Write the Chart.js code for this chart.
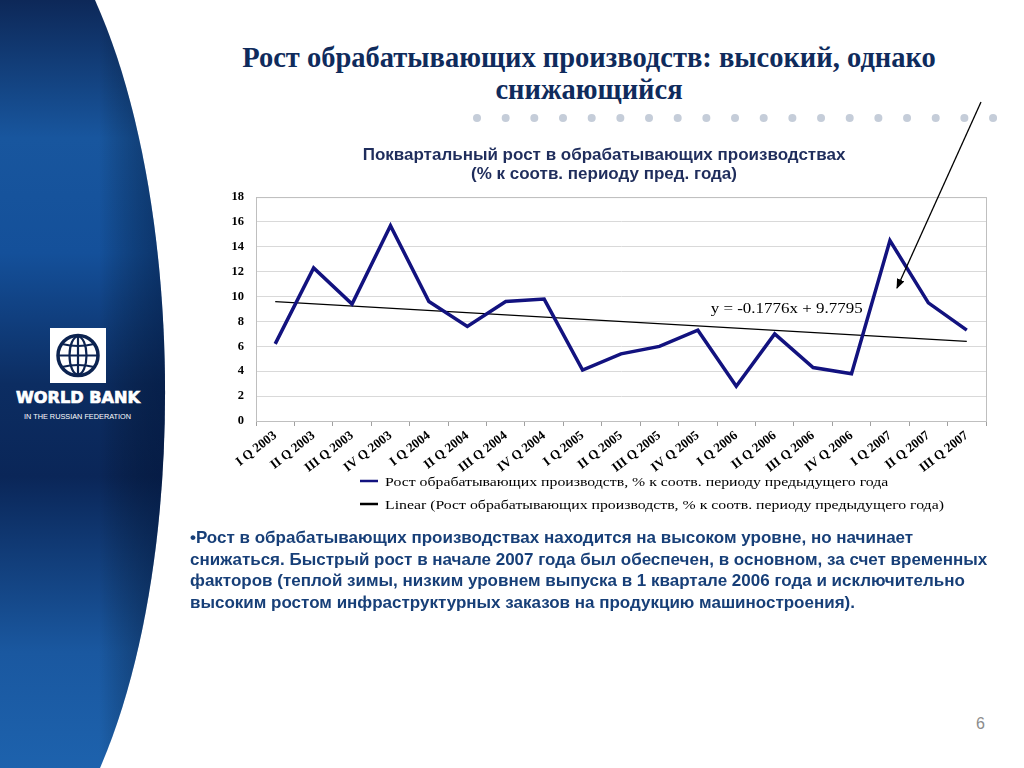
<!DOCTYPE html>
<html>
<head>
<meta charset="utf-8">
<script src="https://cdn.jsdelivr.net/npm/chart.js@4.4.1/dist/chart.umd.min.js"></script>
<style>
  body { margin: 0; width: 1024px; height: 768px; background: #fff; overflow: hidden; position: relative; }
  #panel { position: absolute; left: 0; top: 0; }
  #titulo { position: absolute; left: 190px; width: 798px; top: 42px; text-align: center;
            font: bold 28.5px "Liberation Serif", serif; line-height: 32px; color: #0f2b5c; }
  #pontos { position: absolute; left: 0; top: 0; }
  #caixa { position: absolute; left: 180px; top: 140px; width: 830px; height: 390px; }
  #texto { position: absolute; left: 190px; top: 527px; width: 830px;
           font: bold 17px "Liberation Sans", Arial, sans-serif; line-height: 21.7px; color: #173f78; white-space: nowrap; }
  #pagina { position: absolute; left: 976px; top: 715px; font: 16px "Liberation Sans", Arial, sans-serif; color: #8c8c8c; }
  #seta { position: absolute; left: 0; top: 0; pointer-events: none; }
</style>
</head>
<body>
<svg id="panel" width="200" height="768">
  <defs>
    <linearGradient id="azul" x1="0" y1="0" x2="0" y2="1">
      <stop offset="0" stop-color="#0d2858"/>
      <stop offset="0.18" stop-color="#18569e"/>
      <stop offset="0.33" stop-color="#14509a"/>
      <stop offset="0.5" stop-color="#0c2d62"/>
      <stop offset="0.62" stop-color="#0a2658"/>
      <stop offset="0.85" stop-color="#1a58a0"/>
      <stop offset="1" stop-color="#1d62ad"/>
    </linearGradient>
    <linearGradient id="borda" x1="0" y1="0" x2="1" y2="0">
      <stop offset="0" stop-color="#000" stop-opacity="0"/>
      <stop offset="0.6" stop-color="#000" stop-opacity="0"/>
      <stop offset="1" stop-color="#001030" stop-opacity="0.45"/>
    </linearGradient>
  </defs>
  <path d="M0,0 L95,0 C185,200 190,560 100,768 L0,768 Z" fill="url(#azul)"/>
  <path d="M0,0 L95,0 C185,200 190,560 100,768 L0,768 Z" fill="url(#borda)"/>
  <rect x="50" y="328" width="56" height="55" fill="#fff"/>
  <g fill="none" stroke="#0c2350" stroke-width="2.2">
    <circle cx="78" cy="355.5" r="20" stroke-width="3.5"/>
    <ellipse cx="78" cy="355.5" rx="8.5" ry="19"/>
    <line x1="78" y1="336" x2="78" y2="375"/>
    <line x1="58" y1="355.5" x2="98" y2="355.5"/>
    <path d="M62,344 Q78,348 94,344"/>
    <path d="M62,367 Q78,363 94,367"/>
  </g>
  <text x="16" y="403" textLength="124" lengthAdjust="spacingAndGlyphs" fill="#fff" stroke="#fff" stroke-width="0.7"
        font-family="DejaVu Sans, sans-serif" font-weight="bold" font-size="16">WORLD BANK</text>
  <text x="24" y="419" textLength="107" lengthAdjust="spacingAndGlyphs" fill="#fff"
        font-family="Liberation Sans, sans-serif" font-size="7.5">IN THE RUSSIAN FEDERATION</text>
</svg>

<div id="titulo">Рост обрабатывающих производств: высокий, однако<br>снижающийся</div>

<svg id="pontos" width="1024" height="140"></svg>

<div id="caixa"><canvas id="grafico" width="830" height="390"></canvas></div>

<div id="texto">•Рост в обрабатывающих производствах находится на высоком уровне, но начинает<br>снижаться. Быстрый рост в начале 2007 года был обеспечен, в основном, за счет временных<br>факторов (теплой зимы, низким уровнем выпуска в 1 квартале 2006 года и исключительно<br>высоким ростом инфраструктурных заказов на продукцию машиностроения).</div>

<div id="pagina">6</div>

<svg id="seta" width="1024" height="768">
  <defs>
    <marker id="ponta" markerWidth="10" markerHeight="8" refX="9" refY="4" orient="auto" markerUnits="userSpaceOnUse">
      <path d="M0,0 L10,4 L0,8 Z" fill="#000"/>
    </marker>
  </defs>
  <line x1="981" y1="102" x2="897" y2="288" stroke="#000" stroke-width="1.3" marker-end="url(#ponta)"/>
</svg>

<script>
const trimestres = ['I Q 2003', 'II Q 2003', 'III Q 2003', 'IV Q 2003',
                    'I Q 2004', 'II Q 2004', 'III Q 2004', 'IV Q 2004',
                    'I Q 2005', 'II Q 2005', 'III Q 2005', 'IV Q 2005',
                    'I Q 2006', 'II Q 2006', 'III Q 2006', 'IV Q 2006',
                    'I Q 2007', 'II Q 2007', 'III Q 2007'];
const crescimento = [6.2, 12.3, 9.4, 15.7, 9.6, 7.6, 9.6, 9.8, 4.1, 5.4, 6.0, 7.3, 2.8, 7.0, 4.3, 3.8, 14.5, 9.5, 7.3];
// tendencia: so as pontas, o meio fica vazio
const tendencia = [9.6, null, null, null, null, null, null, null, null, null, null, null, null, null, null, null, null, null, 6.4];
const ticksY = [0, 2, 4, 6, 8, 10, 12, 14, 16, 18];
const nomeSerie = 'Рост обрабатывающих производств, % к соотв. периоду предыдущего года';
const nomeTendencia = 'Linear (Рост обрабатывающих производств, % к соотв. периоду предыдущего года)';
const equacao = 'y = -0.1776x + 9.7795';
const tituloGrafico = ['Поквартальный рост в обрабатывающих производствах', '(% к соотв. периоду пред. года)'];

// fileira de pontinhos embaixo do titulo
const pontos = document.getElementById('pontos');
for (let i = 0; i < 19; i++) {
    const c = document.createElementNS('http://www.w3.org/2000/svg', 'circle');
    c.setAttribute('cx', 477 + i * 28.67);
    c.setAttribute('cy', 118);
    c.setAttribute('r', 4);
    c.setAttribute('fill', '#c5cdd9');
    pontos.appendChild(c);
}

const serif = '"Liberation Serif", "Times New Roman", serif';
const esticar = 1.17; // o grafico original parece esticado na horizontal

function textoEsticado(ctx, txt, x, y) {
    ctx.save();
    ctx.translate(x, y);
    ctx.scale(esticar, 1);
    ctx.fillText(txt, 0, 0);
    ctx.restore();
}

const bordaArea = {
    id: 'bordaArea',
    beforeDatasetsDraw(chart) {
        const a = chart.chartArea;
        const ctx = chart.ctx;
        ctx.save();
        ctx.strokeStyle = '#bfbfbf';
        ctx.lineWidth = 1;
        ctx.strokeRect(a.left + 0.5, a.top + 0.5, a.right - a.left, a.bottom - a.top);
        ctx.restore();
    }
};

const legendaPropria = {
    id: 'legendaPropria',
    afterDraw(chart) {
        const ctx = chart.ctx;
        ctx.save();
        ctx.font = '13.5px ' + serif;
        ctx.textBaseline = 'middle';
        ctx.fillStyle = '#000';
        chart.data.datasets.forEach((ds, i) => {
            const y = 341 + i * 23;
            ctx.strokeStyle = ds.borderColor;
            ctx.lineWidth = 2.5;
            ctx.beginPath();
            ctx.moveTo(180, y);
            ctx.lineTo(198, y);
            ctx.stroke();
            textoEsticado(ctx, ds.label, 205, y + 1);
        });
        // equacao da tendencia
        const xs = chart.scales.x, ys = chart.scales.y;
        ctx.font = '14.5px ' + serif;
        const w = ctx.measureText(equacao).width * esticar;
        textoEsticado(ctx, equacao, xs.getPixelForValue(13) + 12 - w / 2, ys.getPixelForValue(9.0));
        ctx.restore();
    }
};

const grafico = document.getElementById('grafico').getContext('2d');
const meuGrafico = new Chart(grafico, {
    type: 'line',
    data: {
        labels: trimestres,
        datasets: [{
            label: nomeSerie,
            data: crescimento,
            borderColor: '#12127f',
            borderWidth: 3.5,
            pointRadius: 0,
            tension: 0,
            fill: false
        },
        {
            label: nomeTendencia,
            data: tendencia,
            borderColor: '#000000',
            borderWidth: 1.3,
            pointRadius: 0,
            spanGaps: true,
            fill: false
        }]
    },
    options: {
        responsive: false,
        animation: false,
        layout: { padding: { left: 42, right: 24, top: 0, bottom: 0 } },
        plugins: {
            legend: { display: false },
            tooltip: { enabled: false },
            title: {
                display: true,
                text: tituloGrafico,
                color: '#1f2d5c',
                font: { family: '"Liberation Sans", Arial, sans-serif', size: 17, weight: 'bold', lineHeight: 1.12 },
                padding: { top: 5.5, bottom: 13.5 }
            }
        },
        scales: {
            x: {
                offset: true,
                grid: { offset: true, drawOnChartArea: false, tickLength: 5, color: '#a0a0a0' },
                border: { color: '#a0a0a0' },
                ticks: {
                    autoSkip: false, maxRotation: 38, minRotation: 38, padding: 2,
                    color: '#000', font: { family: serif, size: 13, weight: 'bold' }
                },
                afterFit(scale) { scale.height = 109; }
            },
            y: {
                min: 0,
                max: 18,
                afterBuildTicks(scale) { scale.ticks = ticksY.map(v => ({ value: v })); },
                grid: { color: '#d9d9d9', drawTicks: false },
                border: { color: '#a0a0a0' },
                ticks: { padding: 12, color: '#000', font: { family: serif, size: 12.5, weight: 'bold' } },
                afterFit(scale) { scale.width = 34; }
            }
        }
    },
    plugins: [bordaArea, legendaPropria]
});
</script>
</body>
</html>
